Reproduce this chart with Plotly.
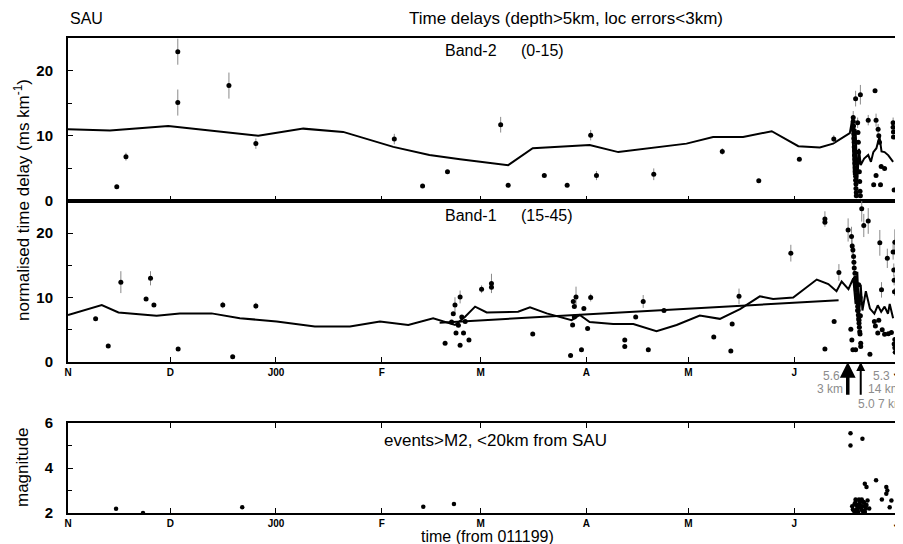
import plotly.graph_objects as go

# ---------------- data (days since 01 Nov 1999) ----------------
month_days = [0, 30, 61, 92, 121, 152, 182, 213, 243]
month_labels = ["N", "D", "J00", "F", "M", "A", "M", "J", "J"]

# Band-2 (0-15) time delays
b2_day = [14.3, 17.0, 32.2, 32.2, 47.2, 55.1, 95.7, 104.0, 111.3, 126.9, 129.1, 139.7,
          146.4, 153.3, 155.0, 171.8, 191.9, 202.6, 214.5, 224.6,
          230.3, 230.3, 230.4, 230.4, 230.5, 230.5, 230.6, 230.6, 230.7, 230.7, 230.8,
          230.8, 230.9, 230.9, 231.0, 231.0, 231.1, 231.1, 231.2, 231.2,
          231.6, 231.7, 231.8, 231.9, 232.0, 232.1, 232.2, 232.3, 232.4,
          231.0, 232.4, 236.7, 234.7, 237.0, 237.6, 237.8, 238.0, 238.5, 239.5, 237.0,
          236.3, 238.3, 242.0, 242.0, 242.1, 242.1, 242.3, 244.6, 244.8]
b2_val = [2.2, 6.8, 22.9, 15.1, 17.7, 8.8, 9.5, 2.3, 4.5, 11.7, 2.4, 3.9,
          2.4, 10.1, 3.9, 4.1, 7.6, 3.1, 6.4, 9.5,
          12.8, 12.2, 11.5, 10.9, 10.3, 9.6, 9.0, 8.3, 7.7, 7.0, 6.4,
          5.8, 5.1, 4.5, 3.8, 3.2, 2.6, 1.9, 1.3, 0.8,
          12.0, 10.5, 9.0, 7.5, 6.0, 4.5, 3.0, 1.5, 0.8,
          15.7, 16.3, 16.9, 12.4, 12.4, 11.0, 10.0, 9.0, 5.3, 5.0, 3.9,
          2.5, 2.5, 12.0, 11.3, 10.6, 9.8, 1.7, 12.3, 20.0]
b2_err = [0, 0.6, 2.0, 2.0, 2.0, 0.8, 0.8, 0, 0, 1.2, 0, 0,
          0, 0.8, 0.7, 0.9, 0.5, 0, 0, 0.6,
          1.0, 0, 0.8, 0, 0.6, 0, 0, 0.5, 0, 0, 0,
          0, 0, 0, 0, 0, 0, 0, 0, 0,
          0.8, 0, 0, 0, 0, 0, 0, 0, 0,
          1.2, 1.5, 0, 0.8, 1.0, 0.8, 0, 0, 0, 0, 0,
          0, 0, 0.8, 0, 0, 0, 0, 0, 0]

b2_line_day = [0, 12.3, 29.4, 55.8, 69.0, 80.7, 95.4, 106.0, 115.0, 129.1, 136.3, 153.0,
               161.4, 171.6, 181.4, 189.2, 198.0, 206.4, 214.2, 220.5, 224.4, 229.3,
               230.0, 230.5, 231.0, 231.5, 232.0, 232.5, 233.5, 234.7, 235.5, 236.2,
               237.1, 238.0, 238.6, 239.5, 240.6, 242.0]
b2_line_val = [11.0, 10.8, 11.5, 10.0, 11.1, 10.6, 8.3, 7.05, 6.4, 5.5, 8.1, 8.6,
               7.5, 8.2, 8.8, 9.8, 9.8, 10.7, 8.4, 8.2, 8.8, 10.4,
               12.5, 4.0, 11.0, 3.0, 8.0, 5.5, 6.5, 7.05, 6.0, 7.5,
               8.1, 9.9, 7.6, 7.5, 7.0, 6.0]

# Band-1 (15-45) time delays
b1_day = [8.1, 11.8, 15.5, 22.9, 24.2, 25.2, 32.3, 45.4, 48.3, 55.1,
          110.6, 112.5, 113.0, 113.5, 113.8, 114.5, 115.0, 115.0, 115.5, 116.0, 117.6, 116.5,
          121.3, 124.2, 124.2, 136.3, 147.4, 148.2, 149.0, 148.5, 148.0, 148.5, 150.6,
          151.3, 152.4, 153.3, 163.3, 163.3, 166.5, 168.7, 170.2, 174.8, 189.4, 194.8,
          194.4, 196.8, 212.0, 222.0, 222.0, 222.0, 224.7, 226.1, 228.8,
          229.8, 230.0, 230.2, 230.4, 230.5, 230.6, 230.8, 230.9, 231.0, 231.1, 231.2,
          231.3, 231.4, 231.5, 231.6, 231.7, 231.8, 231.9, 232.0, 232.1, 232.2, 232.3,
          232.5, 232.5, 229.6, 230.2, 231.0, 229.9, 234.7, 235.2, 236.5, 236.8,
          237.5, 238.6, 238.1, 239.5, 240.3, 240.6, 241.5, 242.5, 242.0, 242.2, 242.3,
          242.4, 242.5, 242.3, 242.5, 242.6, 242.7, 237.8, 238.8, 232.8, 233.4,
          231.9, 232.3, 231.6, 232.0, 231.8, 232.4]
b1_val = [6.7, 2.5, 12.4, 9.8, 13.0, 8.85, 2.0, 8.85, 0.8, 8.7,
          2.9, 6.2, 7.5, 8.85, 4.5, 5.7, 10.1, 2.6, 7.0, 4.5, 3.4, 6.3,
          11.3, 12.2, 11.6, 4.35, 1.0, 9.4, 10.1, 8.6, 5.75, 7.0, 1.9,
          8.3, 5.2, 10.0, 3.4, 2.4, 7.0, 9.4, 1.9, 8.0, 3.9, 5.9,
          1.7, 10.2, 16.9, 22.2, 21.7, 2.0, 6.3, 13.9, 20.5,
          19.5, 18.0, 17.4, 16.4, 15.5, 14.6, 13.8, 13.0, 12.4, 11.8, 11.2,
          10.5, 9.9, 9.3, 8.6, 8.0, 7.3, 6.7, 6.0, 5.4, 4.7, 4.35,
          2.9, 2.4, 5.1, 1.9, 1.9, 3.4, 21.9, 1.2, 6.3, 5.6,
          4.5, 11.2, 18.5, 4.3, 16.1, 4.4, 4.6, 18.6, 17.1, 14.3, 12.7,
          10.9, 3.5, 2.8, 2.2, 1.5, 17.1, 6.5, 5.0, 23.8, 21.2,
          12.0, 10.0, 8.0, 6.5, 9.0, 7.2]
b1_err = [0, 0, 1.7, 0, 1.1, 0, 0, 0.5, 0, 0.5,
          0, 0, 0, 1.2, 0, 0, 1.0, 0, 0, 0, 0, 0,
          0.6, 1.5, 0.8, 0, 0, 0, 1.6, 0, 0, 0, 0,
          0, 0, 0.6, 0, 0, 0, 1.0, 0, 0, 0, 0,
          0, 1.2, 1.3, 1.2, 0, 0, 0, 1.3, 1.8,
          1.5, 1.2, 1.0, 1.5, 0, 1.2, 0, 1.0, 0, 1.0, 0,
          0.8, 0, 0, 0, 0, 0, 0, 0, 0, 0, 0,
          0, 0, 0, 0, 0, 0, 2.0, 0, 0, 0,
          0, 1.2, 2.0, 0, 1.5, 0, 0, 2.0, 1.2, 1.0, 0.8,
          0.6, 0, 0, 0, 0, 0, 0, 0, 2.0, 1.8,
          0, 0, 0, 0, 0, 0]

b1_line_day = [0, 9.9, 14.8, 26.0, 32.8, 42.1, 50.4, 61.2, 72.4, 82.7, 91.5, 99.8, 107.1,
               112.0, 113.5, 116.4, 119.4, 122.8, 132.0, 135.5, 140.4, 147.7, 150.1, 153.0,
               159.9, 165.8, 172.6, 178.5, 185.3, 191.2, 197.1, 202.9, 206.8, 212.7, 219.6,
               223.0, 225.4, 226.9, 228.9, 230.3, 231.0, 231.5, 232.0, 232.5, 233.0, 234.0,
               235.2, 236.5, 237.5, 238.5, 239.5, 240.5, 241.0, 242.0]
b1_line_val = [7.3, 8.85, 7.7, 7.2, 7.55, 7.55, 6.8, 6.3, 5.5, 5.5, 6.3, 5.75, 6.8,
               6.0, 5.75, 7.0, 8.6, 7.7, 7.8, 8.5, 7.55, 6.5, 7.3, 6.2,
               5.9, 5.9, 4.8, 5.75, 7.2, 6.7, 8.2, 10.2, 9.8, 10.0, 12.8,
               12.1, 11.0, 12.5, 11.3, 13.0, 9.0, 14.0, 7.0, 12.0, 8.0, 11.0,
               8.3, 7.5, 8.8, 7.8, 8.6, 7.5, 9.0, 6.8]

b1_trend_day = [109.0, 226.0]
b1_trend_val = [6.1, 9.6]

# Events > M2 within 20 km
ev_day = [14.1, 22.0, 51.1, 104.2, 113.2, 229.5, 229.5, 233.0,
          230.0, 230.5, 231.0, 231.5, 232.0, 232.5, 233.0, 233.5, 234.0, 230.8, 231.8,
          232.8, 233.8, 231.3, 232.3, 233.3, 234.5, 235.0,
          230.2, 230.7, 231.2, 231.7, 232.2, 232.7, 233.2, 233.7, 234.2, 231.0, 232.0, 233.0,
          233.7, 234.2, 237.0, 240.0, 240.3, 240.0, 238.7, 241.5, 241.0]
ev_mag = [2.19, 2.0, 2.26, 2.28, 2.4, 5.55, 5.0, 5.3,
          2.3, 2.1, 2.5, 2.2, 2.6, 2.3, 2.1, 2.45, 2.2, 2.05, 2.35,
          2.6, 2.3, 2.15, 2.5, 2.0, 2.55, 2.2,
          2.15, 2.4, 2.35, 2.05, 2.4, 2.15, 2.5, 2.05, 2.35, 2.6, 2.25, 2.3,
          3.3, 3.15, 3.45, 3.15, 3.0, 2.85, 2.6, 2.55, 2.25]

# ---------------- figure ----------------
# the page body adds an 8px margin, so the figure is drawn 8px smaller and
# all layout pixel positions (measured on the 903x544 window) are shifted by 8
OFF = 8
W, H = 903 - OFF, 544 - OFF
FONT = "Liberation Sans"
fig = go.Figure()

def pts(x, y, e, ax):
    fig.add_trace(go.Scatter(
        x=x, y=y, mode="markers", xaxis=ax[0], yaxis=ax[1],
        marker=dict(color="black", size=5),
        error_y=dict(type="data", array=e, color="#8a8a8a", thickness=1, width=0),
        showlegend=False))

def line(x, y, ax, w=2):
    fig.add_trace(go.Scatter(
        x=x, y=y, mode="lines", xaxis=ax[0], yaxis=ax[1],
        line=dict(color="black", width=w), showlegend=False))

line(b2_line_day, b2_line_val, ("x", "y"))
pts(b2_day, b2_val, b2_err, ("x", "y"))
line(b1_line_day, b1_line_val, ("x2", "y2"))
line(b1_trend_day, b1_trend_val, ("x2", "y2"))
pts(b1_day, b1_val, b1_err, ("x2", "y2"))
fig.add_trace(go.Scatter(x=ev_day, y=ev_mag, mode="markers", xaxis="x3", yaxis="y3",
                         marker=dict(color="black", size=4.5), showlegend=False))

def px(p):
    return (p - OFF) / W

def py(p):
    return 1 - (p - OFF) / H

xdom = [px(68), 1.0]
xr = [0, 244.9]
xcommon = dict(range=xr, domain=xdom, showline=True, linecolor="black", linewidth=2,
               mirror=True, ticks="inside", ticklen=5, tickcolor="black", automargin=False,
               tickvals=month_days, ticktext=month_labels, showgrid=False, zeroline=False,
               ticklabeloverflow="allow",
               tickfont=dict(family=FONT, size=10, color="black", weight="bold"))
ycommon = dict(showline=True, linecolor="black", linewidth=2, mirror=False, automargin=False,
               ticks="inside", ticklen=5, tickcolor="black", showgrid=False, zeroline=False,
               tickfont=dict(family=FONT, size=15, color="black", weight="bold"),
               ticklabelstandoff=10)

fig.update_layout(
    width=W, height=H, margin=dict(l=0, r=0, t=0, b=0, autoexpand=False),
    paper_bgcolor="white", plot_bgcolor="white",
    xaxis=dict(xcommon, anchor="y", showticklabels=False),
    xaxis2=dict(xcommon, anchor="y2"),
    xaxis3=dict(xcommon, anchor="y3", mirror="allticks"),
    yaxis=dict(ycommon, domain=[py(201), py(38)], range=[0, 25], tickvals=[0, 10, 20],
               minor=dict(tickvals=[5, 15], ticks="inside", ticklen=4, tickcolor="black"), anchor="x"),
    yaxis2=dict(ycommon, domain=[py(362), py(201)], range=[0, 25], tickvals=[0, 10, 20],
                minor=dict(tickvals=[5, 15], ticks="inside", ticklen=4, tickcolor="black"), anchor="x2"),
    yaxis3=dict(ycommon, domain=[py(513), py(423)], range=[2, 6], tickvals=[2, 4, 6],
                minor=dict(tickvals=[3, 5], ticks="inside", ticklen=4, tickcolor="black"), anchor="x3"),
)

def txt(x, y, s, size=14, color="black", anchor="left", angle=0):
    fig.add_annotation(x=px(x), y=py(y), xref="paper", yref="paper", text=s, showarrow=False,
                       xanchor=anchor, yanchor="middle", textangle=angle,
                       font=dict(family=FONT, size=size, color=color))

txt(68, 18, "SAU", 16)
txt(566, 18, "Time delays (depth>5km, loc errors<3km)", 17, anchor="center")
txt(443, 50, "Band-2", 16)
txt(519, 50, "(0-15)", 16)
txt(443, 215, "Band-1", 16)
txt(519, 215, "(15-45)", 16)
txt(495, 440, "events>M2, <20km from SAU", 17, anchor="center")
txt(487, 536.5, "time (from 011199)", 16, anchor="center")
txt(22, 200, "normalised time delay (ms km<sup>-1</sup>)", 17, anchor="center", angle=-90)
txt(22, 468, "magnitude", 17, anchor="center", angle=-90)

gray = "#8c8c8c"
txt(831, 376, "5.6", 12, gray, "center")
txt(830, 389, "3 km", 12, gray, "center")
txt(881, 376, "5.3", 12, gray, "center")
txt(884, 389, "14 km", 12, gray, "center")
txt(881, 404, "5.0 7 km", 12, gray, "center")

# arrows marking the large earthquakes (day positions on the band-1 time axis)
for d, w in [(228.7, 3.5), (232.5, 2)]:
    fig.add_annotation(x=d, y=0, xref="x2", yref="y2", ax=d, ay=-5.3, axref="x2", ayref="y2",
                       text="", showarrow=True, arrowhead=2, arrowsize=0.9, arrowwidth=w,
                       arrowcolor="black")

fig.write_html("out.html")
